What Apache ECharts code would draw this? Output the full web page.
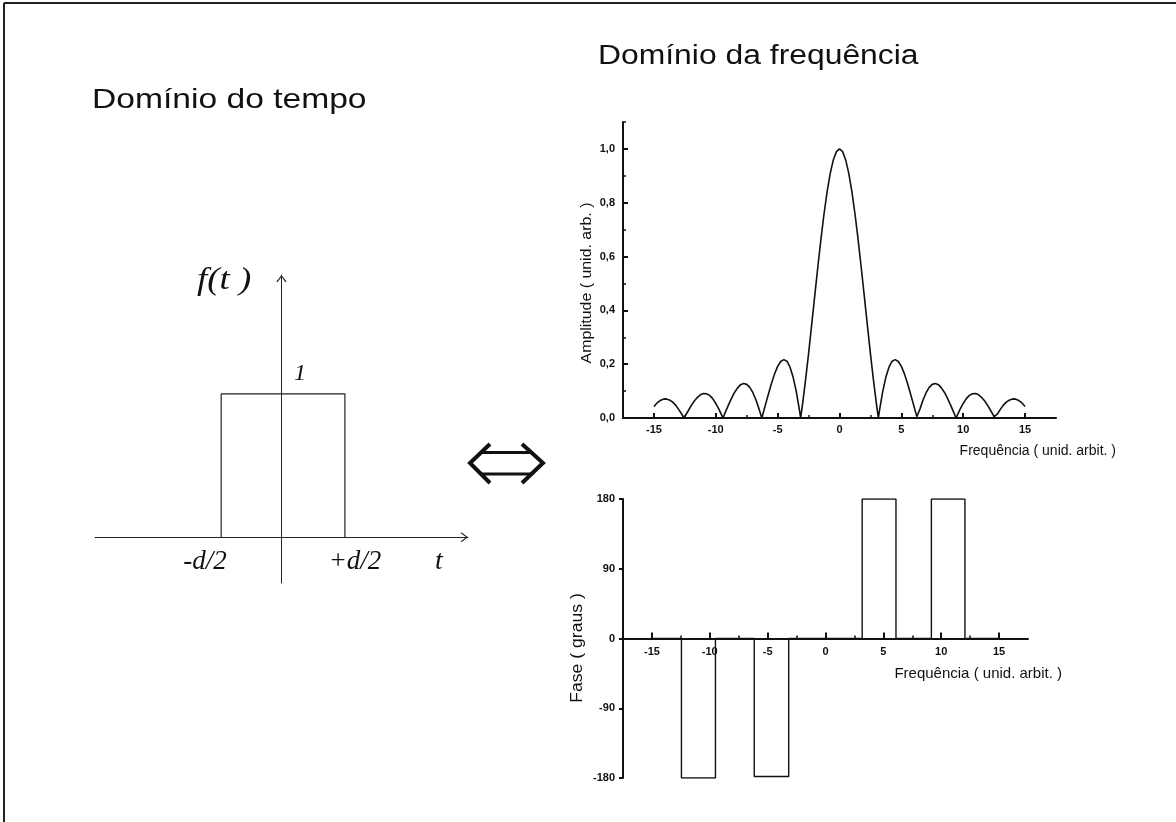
<!DOCTYPE html>
<html>
<head>
<meta charset="utf-8">
<title>Transformada de Fourier de um pulso retangular</title>
<script src="https://cdn.jsdelivr.net/npm/echarts@6/dist/echarts.min.js"></script>
<style>
  html, body { margin: 0; padding: 0; background: #ffffff; }
  #chart { width: 1176px; height: 822px; }
</style>
</head>
<body>
<div id="chart"></div>
<script>
// ---- Espectro de amplitude (unid. arb.) ----
const ampFreq = [
  -15, -14.75, -14.5, -14.25, -14, -13.75, -13.5, -13.25, -13, -12.75, -12.57,
  -12.5, -12.25, -12, -11.75, -11.5, -11.25, -11, -10.75, -10.5, -10.25, -10, -9.75, -9.5, -9.42,
  -9.25, -9, -8.75, -8.5, -8.25, -8, -7.75, -7.5, -7.25, -7, -6.75, -6.5, -6.28,
  -6.25, -6, -5.75, -5.5, -5.25, -5, -4.75, -4.5, -4.25, -4, -3.75, -3.5, -3.25, -3.14,
  -3, -2.75, -2.5, -2.25, -2, -1.75, -1.5, -1.25, -1, -0.75, -0.5, -0.25,
  0,
  0.25, 0.5, 0.75, 1, 1.25, 1.5, 1.75, 2, 2.25, 2.5, 2.75, 3,
  3.14, 3.25, 3.5, 3.75, 4, 4.25, 4.5, 4.75, 5, 5.25, 5.5, 5.75, 6, 6.25,
  6.28, 6.5, 6.75, 7, 7.25, 7.5, 7.75, 8, 8.25, 8.5, 8.75, 9, 9.25,
  9.42, 9.5, 9.75, 10, 10.25, 10.5, 10.75, 11, 11.25, 11.5, 11.75, 12, 12.25, 12.5,
  12.57, 12.75, 13, 13.25, 13.5, 13.75, 14, 14.25, 14.5, 14.75, 15
];
const amplitude = [
  0.043, 0.056, 0.065, 0.070, 0.071, 0.067, 0.060, 0.048, 0.032, 0.014, 0,
  0.005, 0.025, 0.045, 0.062, 0.076, 0.086, 0.091, 0.090, 0.084, 0.072, 0.054, 0.033, 0.008, 0,
  0.019, 0.046, 0.071, 0.094, 0.111, 0.124, 0.128, 0.125, 0.114, 0.094, 0.067, 0.033, 0,
  0.005, 0.047, 0.088, 0.128, 0.164, 0.192, 0.210, 0.217, 0.211, 0.189, 0.152, 0.100, 0.033, 0,
  0.047, 0.139, 0.239, 0.346, 0.455, 0.562, 0.665, 0.759, 0.841, 0.909, 0.959, 0.990,
  1.000,
  0.990, 0.959, 0.909, 0.841, 0.759, 0.665, 0.562, 0.455, 0.346, 0.239, 0.139, 0.047,
  0, 0.033, 0.100, 0.152, 0.189, 0.211, 0.217, 0.210, 0.192, 0.164, 0.128, 0.088, 0.047, 0.005,
  0, 0.033, 0.067, 0.094, 0.114, 0.125, 0.128, 0.124, 0.111, 0.094, 0.071, 0.046, 0.019,
  0, 0.008, 0.033, 0.054, 0.072, 0.084, 0.090, 0.091, 0.086, 0.076, 0.062, 0.045, 0.025, 0.005,
  0, 0.014, 0.032, 0.048, 0.060, 0.067, 0.071, 0.070, 0.065, 0.056, 0.043
];

// ---- Espectro de fase (graus) ----
const phaseFreq = [-15, -12.45, -12.45, -9.51, -9.51, -6.16, -6.16, -3.18, -3.18,
                   3.17, 3.17, 6.09, 6.09, 9.15, 9.15, 12.05, 12.05, 15];
const phaseDeg  = [0, 0, -180, -180, 0, 0, -178, -178, 0,
                   0, 180, 180, 0, 0, 180, 180, 0, 0];

// ---- Pulso retangular no tempo ----
const pulseT = [-0.97, -0.97, 1.02, 1.02];
const pulseF = [0, 1, 1, 0];

// ---- Marcas dos eixos ----
const freqMajorTicks = [-15, -10, -5, 0, 5, 10, 15];
const freqMinorTicks = [-12.5, -7.5, -2.5, 2.5, 7.5, 12.5];
const ampMajorTicks = [0, 0.2, 0.4, 0.6, 0.8, 1.0];
const ampMinorTicks = [0.1, 0.3, 0.5, 0.7, 0.9, 1.1];
const phaseMajorTicks = [-180, -90, 0, 90, 180];

// ---- Textos ----
const titleTime = 'Domínio do tempo';
const titleFreq = 'Domínio da frequência';
const freqAxisName = 'Frequência ( unid. arbit. )';
const ampAxisName = 'Amplitude ( unid. arb. )';
const phaseAxisName = 'Fase ( graus )';

const SANS = '"Liberation Sans", Arial, Helvetica, sans-serif';
const SERIF = '"Liberation Serif", "Times New Roman", serif';
const INK = '#111111';

const zip = (xs, ys) => xs.map((x, i) => [x, ys[i]]);
const comma = v => v.toFixed(1).replace('.', ',');

// geometria do gráfico de fase: o eixo das frequências passa pelo zero
const phaseGrid = { left: 623, top: 499, width: 405, height: 279 };
const phaseZeroOffset = -phaseGrid.height / 2;

// seta aberta (chevron) na ponta dos eixos do diagrama temporal
const openArrow = 'path://M0,6.6 L5,0 L10,6.6 L9,7.2 L5,1.8 L1,7.2 Z';

const tickLabel = { color: INK, fontFamily: SANS, fontWeight: 'bold', fontSize: 11 };

const chart = echarts.init(document.getElementById('chart'), null, { renderer: 'canvas' });

chart.setOption({
  animation: false,
  backgroundColor: '#ffffff',
  grid: [
    { left: 623, top: 122, width: 433, height: 296 },   // amplitude
    phaseGrid,                                          // fase
    { left: 95, top: 275, width: 373, height: 308 }     // pulso
  ],
  xAxis: [
    { // amplitude: frequência
      gridIndex: 0, type: 'value', min: -17.5, max: 17.5, position: 'bottom',
      axisLine: { show: true, onZero: false, lineStyle: { color: INK, width: 2 } },
      axisTick: { show: true, inside: true, length: 5, customValues: freqMajorTicks, lineStyle: { color: INK, width: 2 } },
      axisLabel: Object.assign({ customValues: freqMajorTicks, margin: 6 }, tickLabel),
      splitLine: { show: false },
      name: freqAxisName, nameLocation: 'end', nameGap: 60,
      nameTextStyle: { color: INK, fontFamily: SANS, fontSize: 14, align: 'right', verticalAlign: 'top', padding: [26, 0, 0, 0] }
    },
    { // amplitude: marcas secundárias
      gridIndex: 0, type: 'value', min: -17.5, max: 17.5, position: 'bottom',
      axisLine: { show: false, onZero: false },
      axisTick: { show: true, inside: true, length: 3, customValues: freqMinorTicks, lineStyle: { color: INK, width: 1.5 } },
      axisLabel: { show: false }, splitLine: { show: false }
    },
    { // fase: frequência (na linha de 0 grau)
      gridIndex: 1, type: 'value', min: -17.5, max: 17.5, position: 'bottom', offset: phaseZeroOffset,
      axisLine: { show: true, onZero: false, lineStyle: { color: INK, width: 2 } },
      axisTick: { show: true, inside: true, length: 6, customValues: freqMajorTicks, lineStyle: { color: INK, width: 2 } },
      axisLabel: Object.assign({ customValues: freqMajorTicks, margin: 8 }, tickLabel),
      splitLine: { show: false },
      name: freqAxisName, nameLocation: 'end', nameGap: 34,
      nameTextStyle: { color: INK, fontFamily: SANS, fontSize: 15, align: 'right', verticalAlign: 'top', padding: [28, 0, 0, 0] }
    },
    { // fase: marcas secundárias
      gridIndex: 1, type: 'value', min: -17.5, max: 17.5, position: 'bottom', offset: phaseZeroOffset,
      axisLine: { show: false, onZero: false },
      axisTick: { show: true, inside: true, length: 3, customValues: freqMinorTicks, lineStyle: { color: INK, width: 1.5 } },
      axisLabel: { show: false }, splitLine: { show: false }
    },
    { // pulso: eixo t
      gridIndex: 2, type: 'value', min: -3, max: 3,
      axisLine: { show: true, onZero: true, symbol: ['none', openArrow], symbolSize: [10, 7.2], symbolOffset: [0, -3.6],
                  lineStyle: { color: '#222222', width: 1 } },
      axisTick: { show: false }, axisLabel: { show: false }, splitLine: { show: false }
    }
  ],
  yAxis: [
    { // amplitude
      gridIndex: 0, type: 'value', min: 0, max: 1.1, position: 'left',
      axisLine: { show: true, onZero: false, lineStyle: { color: INK, width: 2 } },
      axisTick: { show: true, inside: true, length: 5, customValues: ampMajorTicks, lineStyle: { color: INK, width: 2 } },
      axisLabel: Object.assign({ customValues: ampMajorTicks, margin: 8, formatter: comma }, tickLabel),
      splitLine: { show: false }
    },
    { // amplitude: marcas secundárias
      gridIndex: 0, type: 'value', min: 0, max: 1.1, position: 'left',
      axisLine: { show: false, onZero: false },
      axisTick: { show: true, inside: true, length: 3, customValues: ampMinorTicks, lineStyle: { color: INK, width: 1.5 } },
      axisLabel: { show: false }, splitLine: { show: false }
    },
    { // fase
      gridIndex: 1, type: 'value', min: -180, max: 180, position: 'left',
      axisLine: { show: true, onZero: false, lineStyle: { color: INK, width: 2 } },
      axisTick: { show: true, inside: false, length: 4, customValues: phaseMajorTicks, lineStyle: { color: INK, width: 2 } },
      axisLabel: Object.assign({ customValues: phaseMajorTicks, margin: 8 }, tickLabel),
      splitLine: { show: false }
    },
    { // pulso: eixo f(t)
      gridIndex: 2, type: 'value', min: -0.32, max: 1.83,
      axisLine: { show: true, onZero: true, symbol: ['none', openArrow], symbolSize: [10, 7.2], symbolOffset: [0, -3.6],
                  lineStyle: { color: '#222222', width: 1 } },
      axisTick: { show: false }, axisLabel: { show: false }, splitLine: { show: false }
    }
  ],
  series: [
    {
      name: 'Amplitude', type: 'line', xAxisIndex: 0, yAxisIndex: 0,
      data: zip(ampFreq, amplitude), showSymbol: false, smooth: false,
      lineStyle: { color: INK, width: 1.6 }, z: 3
    },
    {
      name: 'Fase', type: 'line', xAxisIndex: 2, yAxisIndex: 2,
      data: zip(phaseFreq, phaseDeg), showSymbol: false,
      lineStyle: { color: INK, width: 1.4 }, z: 3
    },
    {
      name: 'f(t)', type: 'line', xAxisIndex: 4, yAxisIndex: 3,
      data: zip(pulseT, pulseF), showSymbol: false,
      lineStyle: { color: '#222222', width: 1.2 }, z: 3
    }
  ],
  graphic: [
    // moldura
    { type: 'line', shape: { x1: 4, y1: 3, x2: 1176, y2: 3 }, style: { stroke: '#222', lineWidth: 2 } },
    { type: 'line', shape: { x1: 4, y1: 3, x2: 4, y2: 822 }, style: { stroke: '#222', lineWidth: 2 } },
    // títulos
    { type: 'text', x: 92, y: 100, scaleX: 1.2,
      style: { text: titleTime, font: '28px ' + SANS, fill: INK, align: 'left', verticalAlign: 'middle' } },
    { type: 'text', x: 598, y: 57, scaleX: 1.18,
      style: { text: titleFreq, font: '27px ' + SANS, fill: INK, align: 'left', verticalAlign: 'middle' } },
    // nomes dos eixos verticais
    { type: 'text', x: 587, y: 283, rotation: Math.PI / 2, scaleX: 1.06,
      style: { text: ampAxisName, font: '15px ' + SANS, fill: INK, align: 'center', verticalAlign: 'middle' } },
    { type: 'text', x: 578, y: 648, rotation: Math.PI / 2, scaleX: 1.1,
      style: { text: phaseAxisName, font: '16px ' + SANS, fill: INK, align: 'center', verticalAlign: 'middle' } },
    // rótulos do diagrama temporal
    { type: 'text', x: 197, y: 281, scaleX: 1.15,
      style: { text: 'f(t )', font: 'italic 32px ' + SERIF, fill: INK, align: 'left', verticalAlign: 'middle' } },
    { type: 'text', x: 300, y: 374,
      style: { text: '1', font: 'italic 24px ' + SERIF, fill: INK, align: 'center', verticalAlign: 'middle' } },
    { type: 'text', x: 205, y: 562,
      style: { text: '-d/2', font: 'italic 27px ' + SERIF, fill: INK, align: 'center', verticalAlign: 'middle' } },
    { type: 'text', x: 355, y: 562,
      style: { text: '+d/2', font: 'italic 27px ' + SERIF, fill: INK, align: 'center', verticalAlign: 'middle' } },
    { type: 'text', x: 439, y: 562,
      style: { text: 't', font: 'italic 28px ' + SERIF, fill: INK, align: 'center', verticalAlign: 'middle' } },
    // seta dupla (equivalência tempo <-> frequência)
    { type: 'polyline', shape: { points: [[490, 444], [470, 463], [490, 483]] },
      style: { stroke: INK, lineWidth: 4, fill: null, lineJoin: 'miter' } },
    { type: 'polyline', shape: { points: [[522, 444], [543, 463], [522, 483]] },
      style: { stroke: INK, lineWidth: 4, fill: null, lineJoin: 'miter' } },
    { type: 'line', shape: { x1: 481, y1: 452.5, x2: 532, y2: 452.5 }, style: { stroke: INK, lineWidth: 3 } },
    { type: 'line', shape: { x1: 481, y1: 474, x2: 532, y2: 474 }, style: { stroke: INK, lineWidth: 3 } }
  ]
});
</script>
</body>
</html>
